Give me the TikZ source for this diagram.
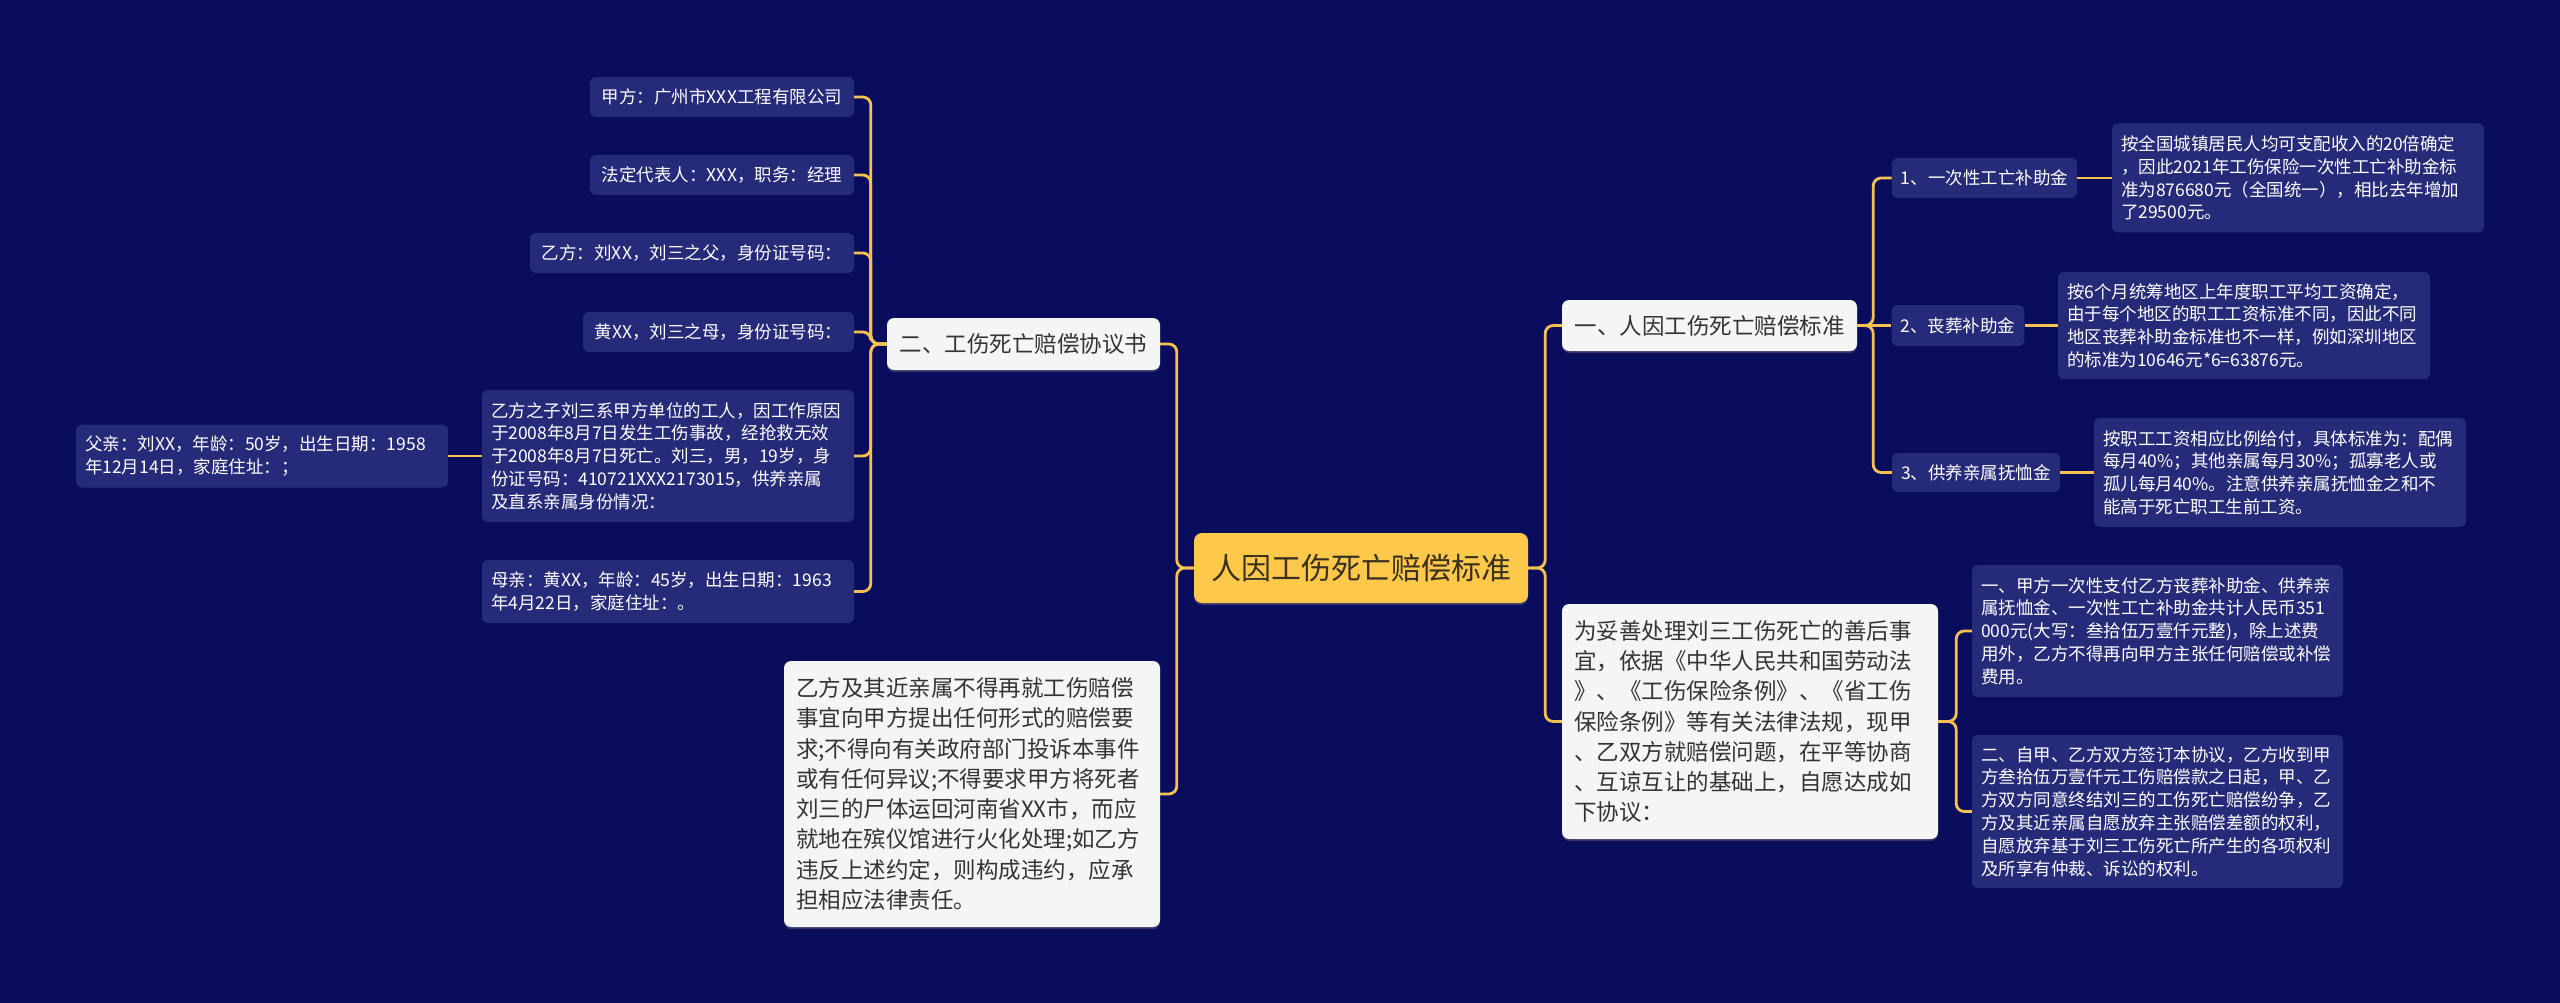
\documentclass[tikz,border=0pt]{standalone}
\usepackage{fontspec}
\setmainfont{Noto Sans CJK SC}
\usetikzlibrary{shadows}
\definecolor{bgc}{HTML}{0A0D5C}
\definecolor{leafc}{HTML}{262B79}
\definecolor{whitec}{HTML}{F5F5F5}
\definecolor{yelc}{HTML}{FEC84A}
\definecolor{linec}{HTML}{F5C150}
\definecolor{darktext}{HTML}{333333}
\definecolor{roottext}{HTML}{3A3020}
\begin{document}
\begin{tikzpicture}[x=1pt,y=-1pt,
  conn/.style={draw=linec, line width=2.8pt, rounded corners=8pt},
  leaf/.style={fill=leafc, text=white, rounded corners=6pt, inner xsep=9pt, inner ysep=0pt, font=\fontsize{17.5}{22.8}\selectfont},
  leafm/.style={leaf, align=left},
  wbox/.style={fill=whitec, text=darktext, rounded corners=7pt, inner xsep=12pt, inner ysep=0pt,
    font=\fontsize{22.5}{30.3}\selectfont, drop shadow={shadow xshift=0pt, shadow yshift=-2pt, opacity=0.35}},
  root/.style={fill=yelc, text=roottext, rounded corners=8pt, inner sep=0pt,
    font=\fontsize{30}{36}\selectfont, drop shadow={shadow xshift=0pt, shadow yshift=-2pt, opacity=0.35}}]
\fill[bgc] (0,0) rectangle (2560,1003);
\useasboundingbox (0,0) rectangle (2560,1003);

% root
\node[root, minimum width=334pt, minimum height=70pt] (C) at (1361,568) {人因工伤死亡赔偿标准};

% left side
\node[wbox, minimum width=273pt, minimum height=52pt] (L2a) at (1023.5,344) {二、工伤死亡赔偿协议书};
\node[wbox, align=left, text width=352pt, minimum height=266pt] (L2b) at (972,794) {乙方及其近亲属不得再就工伤赔偿\\事宜向甲方提出任何形式的赔偿要\\求;不得向有关政府部门投诉本事件\\或有任何异议;不得要求甲方将死者\\刘三的尸体运回河南省XX市，而应\\就地在殡仪馆进行火化处理;如乙方\\违反上述约定，则构成违约，应承\\担相应法律责任。};

\node[leaf, minimum width=264pt, minimum height=40pt] (a1) at (722,97) {甲方：广州市XXX工程有限公司};
\node[leaf, minimum width=264pt, minimum height=40pt] (a2) at (722,175) {法定代表人：XXX，职务：经理};
\node[leaf, minimum width=324pt, minimum height=40pt] (a3) at (692,253) {乙方：刘XX，刘三之父，身份证号码：};
\node[leaf, minimum width=271pt, minimum height=40pt] (a4) at (718.5,332) {黄XX，刘三之母，身份证号码：};
\node[leafm, text width=354pt, minimum height=132pt] (a5) at (668,456) {乙方之子刘三系甲方单位的工人，因工作原因\\于2008年8月7日发生工伤事故，经抢救无效\\于2008年8月7日死亡。刘三，男，19岁，身\\份证号码：410721XXX2173015，供养亲属\\及直系亲属身份情况：};
\node[leafm, text width=354pt, minimum height=63pt] (a6) at (668,591.5) {母亲：黄XX，年龄：45岁，出生日期：1963\\年4月22日，家庭住址：。};
\node[leafm, text width=354pt, minimum height=63pt] (f) at (262,456) {父亲：刘XX，年龄：50岁，出生日期：1958\\年12月14日，家庭住址：；};

% right side
\node[wbox, minimum width=295pt, minimum height=51pt] (R2a) at (1709.5,325.5) {一、人因工伤死亡赔偿标准};
\node[wbox, align=left, text width=352pt, minimum height=235pt] (R2b) at (1750,721.5) {为妥善处理刘三工伤死亡的善后事\\宜，依据《中华人民共和国劳动法\\》、《工伤保险条例》、《省工伤\\保险条例》等有关法律法规，现甲\\、乙双方就赔偿问题，在平等协商\\、互谅互让的基础上，自愿达成如\\下协议：};

\node[leaf, minimum width=185pt, minimum height=40pt] (R3a) at (1984.5,178) {1、一次性工亡补助金};
\node[leaf, minimum width=132pt, minimum height=41pt] (R3b) at (1958,325.5) {2、丧葬补助金};
\node[leaf, minimum width=168pt, minimum height=39pt] (R3c) at (1976,472.5) {3、供养亲属抚恤金};

\node[leafm, text width=354pt, minimum height=109pt] (R4a) at (2298,178) {按全国城镇居民人均可支配收入的20倍确定\\，因此2021年工伤保险一次性工亡补助金标\\准为876680元（全国统一），相比去年增加\\了29500元。};
\node[leafm, text width=354pt, minimum height=107pt] (R4b) at (2244,325.5) {按6个月统筹地区上年度职工平均工资确定，\\由于每个地区的职工工资标准不同，因此不同\\地区丧葬补助金标准也不一样，例如深圳地区\\的标准为10646元*6=63876元。};
\node[leafm, text width=354pt, minimum height=109pt] (R4c) at (2280,472.5) {按职工工资相应比例给付，具体标准为：配偶\\每月40\%；其他亲属每月30\%；孤寡老人或\\孤儿每月40\%。注意供养亲属抚恤金之和不\\能高于死亡职工生前工资。};

\node[leafm, text width=353pt, minimum height=132pt] (R3d) at (2157.5,631) {一、甲方一次性支付乙方丧葬补助金、供养亲\\属抚恤金、一次性工亡补助金共计人民币351\\000元(大写：叁拾伍万壹仟元整)，除上述费\\用外，乙方不得再向甲方主张任何赔偿或补偿\\费用。};
\node[leafm, text width=353pt, minimum height=153pt] (R3e) at (2157.5,811.5) {二、自甲、乙方双方签订本协议，乙方收到甲\\方叁拾伍万壹仟元工伤赔偿款之日起，甲、乙\\方双方同意终结刘三的工伤死亡赔偿纷争，乙\\方及其近亲属自愿放弃主张赔偿差额的权利，\\自愿放弃基于刘三工伤死亡所产生的各项权利\\及所享有仲裁、诉讼的权利。};

% connectors
\draw[conn] (C.west) -- ++(-17,0) |- (L2a.east);
\draw[conn] (C.west) -- ++(-17,0) |- (L2b.east);
\draw[conn] (C.east) -- ++(17,0) |- (R2a.west);
\draw[conn] (C.east) -- ++(17,0) |- (R2b.west);
\foreach \n in {a1,a2,a3,a4,a5,a6}{
  \draw[conn] (L2a.west) -- ++(-16,0) |- (\n.east);
}
\draw[conn] (a5.west) -- (f.east);
\draw[conn] (R2a.east) -- ++(16,0) |- (R3a.west);
\draw[conn] (R2a.east) -- (R3b.west);
\draw[conn] (R2a.east) -- ++(16,0) |- (R3c.west);
\draw[conn] (R3a.east) -- (R4a.west);
\draw[conn] (R3b.east) -- (R4b.west);
\draw[conn] (R3c.east) -- (R4c.west);
\draw[conn] (R2b.east) -- ++(18,0) |- (R3d.west);
\draw[conn] (R2b.east) -- ++(18,0) |- (R3e.west);
\end{tikzpicture}
\end{document}
